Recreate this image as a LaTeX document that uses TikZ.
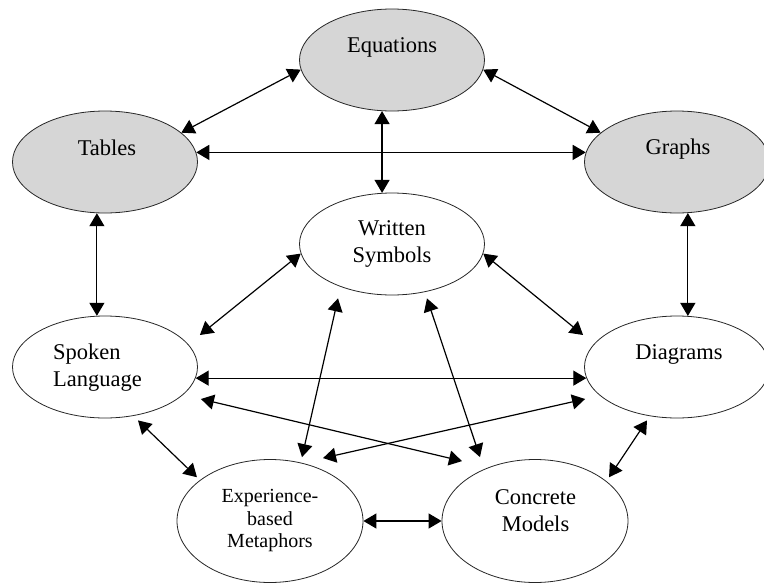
\documentclass[tikz,border=0pt]{standalone}
\usepackage{fontspec}
\setmainfont{Liberation Serif}
\usetikzlibrary{arrows.meta, shapes.geometric}

\begin{document}
\begin{tikzpicture}[x=1pt,y=-1pt,
  rep/.style={ellipse, draw=black!85, line width=0.8pt, minimum width=185pt, minimum height=102pt, inner sep=0pt},
  repgrey/.style={rep, fill=black!16},
  repbig/.style={rep, minimum width=186pt, minimum height=123pt},
  lbl/.style={font=\fontsize{22.5}{27}\selectfont, inner sep=0pt, align=center},
  link/.style={{Triangle[length=13pt,width=15pt]}-{Triangle[length=13pt,width=15pt]}, line width=1.2pt}]
  \useasboundingbox (0,0) rectangle (764,584);
  % Representations
  \node[repgrey] (eq) at (392,60) {};
  \node[repgrey] (tab) at (105,162) {};
  \node[repgrey] (gr) at (677,162) {};
  \node[rep] (ws) at (392,244) {};
  \node[rep] (sp) at (105,367) {};
  \node[rep] (dg) at (677,367) {};
  \node[repbig] (ex) at (270,521) {};
  \node[repbig] (cm) at (535,521) {};
  % Labels
  \node[lbl, anchor=base] (eqt) at (392,52) {Equations};
  \node[lbl, anchor=base] (tabt) at (107,155) {Tables};
  \node[lbl, anchor=base] (grt) at (678,154) {Graphs};
  \node[lbl] (wst) at (392,243.5) {Written\\Symbols};
  \node[lbl, anchor=west, align=left] (spt) at (53,367.5) {Spoken\\Language};
  \node[lbl, anchor=base] (dgt) at (679,359) {Diagrams};
  \node[lbl, font=\fontsize{20}{22.5}\selectfont] (ext) at (270,521) {Experience-\\based\\Metaphors};
  \node[lbl] (cmt) at (535.5,511) {Concrete\\Models};
  % Translations
  \draw[link] (eq.186) -- (tab.21);
  \draw[link] (eq.354) -- (gr.159);
  \draw[link] (tab.6) -- (gr.174);
  \draw[link] (eq.259) -- (ws.101);
  \draw[link] (tab.261) -- (sp.99);
  \draw[link] (gr.282) -- (dg.78);
  \draw[link] (ws.186) -- ([shift={(2,-32)}]sp.east);
  \draw[link] (ws.354) -- ([shift={(-1,-32)}]dg.west);
  \draw[link] (sp.353) -- (dg.187);
  \draw[link] ([shift={(3,32)}]sp.east) -- ([shift={(-73,2)}]cm.north);
  \draw[link] ([shift={(1,32)}]dg.west) -- ([shift={(53,-1)}]ex.north);
  \draw[link] ([shift={(-54,3)}]ws.south) -- ([shift={(32,-2)}]ex.north);
  \draw[link] ([shift={(35,3)}]ws.south) -- ([shift={(-55,-2)}]cm.north);
  \draw[link] ([shift={(33,2)}]sp.south) -- ([xshift=-7]ex.north west);
  \draw[link] ([shift={(-30,2)}]dg.south) -- ([xshift=8]cm.north east);
  \draw[link] (ex.east) -- (cm.west);
\end{tikzpicture}
\end{document}
